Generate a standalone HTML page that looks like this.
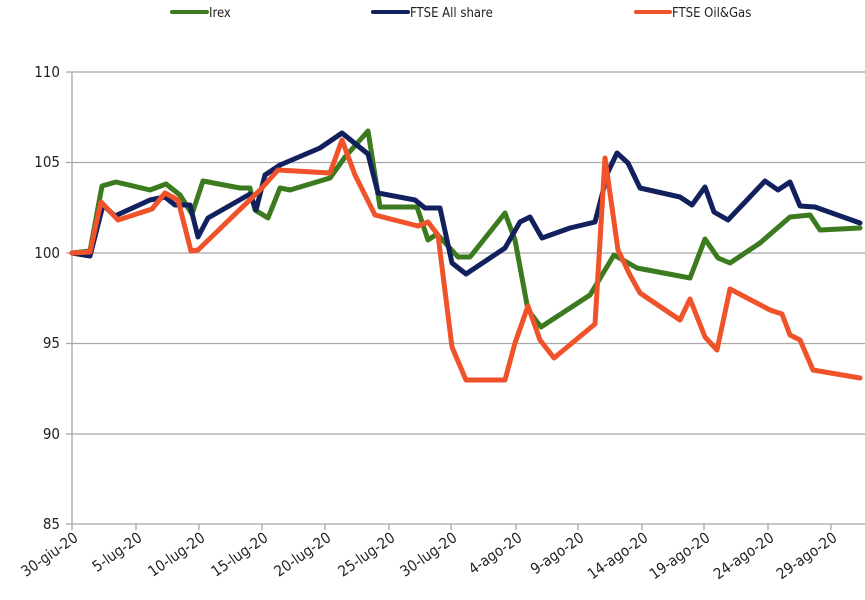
<!DOCTYPE html>
<html><head><meta charset="utf-8"><style>
html,body{margin:0;padding:0;background:#fff;}
svg{display:block;font-family:"DejaVu Sans Condensed","Liberation Sans",sans-serif;}
</style></head><body>
<svg width="865" height="600" viewBox="0 0 865 600">
<g stroke="#a8a8a8" stroke-width="1.3">
<line x1="66" y1="72" x2="865" y2="72"/>
<line x1="66" y1="162.5" x2="865" y2="162.5"/>
<line x1="66" y1="253" x2="865" y2="253"/>
<line x1="66" y1="343.5" x2="865" y2="343.5"/>
<line x1="66" y1="434" x2="865" y2="434"/>
<line x1="66" y1="524" x2="865" y2="524"/>
<line x1="72" y1="72" x2="72" y2="530"/>
<line x1="136" y1="524" x2="136" y2="530"/><line x1="199" y1="524" x2="199" y2="530"/>
<line x1="262" y1="524" x2="262" y2="530"/><line x1="325" y1="524" x2="325" y2="530"/>
<line x1="389" y1="524" x2="389" y2="530"/><line x1="451" y1="524" x2="451" y2="530"/>
<line x1="516" y1="524" x2="516" y2="530"/><line x1="578" y1="524" x2="578" y2="530"/>
<line x1="642" y1="524" x2="642" y2="530"/><line x1="704" y1="524" x2="704" y2="530"/>
<line x1="768" y1="524" x2="768" y2="530"/><line x1="831" y1="524" x2="831" y2="530"/>
</g>
<g font-size="15" fill="#222" text-anchor="end">
<text x="60" y="77">110</text><text x="60" y="167">105</text><text x="60" y="258">100</text>
<text x="60" y="348">95</text><text x="60" y="439">90</text><text x="60" y="529">85</text>
</g>
<g font-size="15" fill="#222" text-anchor="end">
<text transform="translate(79,540) rotate(-35)">30-giu-20</text>
<text transform="translate(143,540) rotate(-35)">5-lug-20</text>
<text transform="translate(206,540) rotate(-35)">10-lug-20</text>
<text transform="translate(269,540) rotate(-35)">15-lug-20</text>
<text transform="translate(332,540) rotate(-35)">20-lug-20</text>
<text transform="translate(396,540) rotate(-35)">25-lug-20</text>
<text transform="translate(458,540) rotate(-35)">30-lug-20</text>
<text transform="translate(523,540) rotate(-35)">4-ago-20</text>
<text transform="translate(585,540) rotate(-35)">9-ago-20</text>
<text transform="translate(649,540) rotate(-35)">14-ago-20</text>
<text transform="translate(711,540) rotate(-35)">19-ago-20</text>
<text transform="translate(775,540) rotate(-35)">24-ago-20</text>
<text transform="translate(838,540) rotate(-35)">29-ago-20</text>
</g>
<g fill="none" stroke-width="5" stroke-linejoin="round" stroke-linecap="round">
<polyline stroke="#3b7a1e" points="72,253 90,251 102,186 116,182 150,190 166,184 180,195 192,214 203,181 240,188 250,188 255,210 268,218 280,188 290,190 330,178 345,157 368,131 380,207 417,207 428,240 437,234 458,257 470,257 505,213 515,240 528,310 541,327 590,295 614,255 637,268 690,278 705,239 718,258 730,263 760,243 775,230 790,217 810,215 820,230 860,228"/>
<polyline stroke="#12205e" points="72,253 90,256 103,205 115,216 150,200 165,197 175,205 190,205 198,237 208,218 250,194 256,210 265,175 280,165 320,148 342,133 368,154 378,193 415,200 425,208 440,208 452,263 466,274 505,248 520,222 530,217 542,238 570,228 595,222 608,172 617,153 628,163 640,188 680,197 692,205 705,187 714,212 728,220 765,181 778,190 790,182 800,206 815,207 860,223"/>
<polyline stroke="#f0522a" points="72,253 90,252 101,202 118,220 152,209 165,193 178,200 191,251 198,250 260,190 278,170 330,173 342,140 355,175 375,215 418,226 428,222 438,235 452,347 466,380 505,380 515,343 528,306 540,340 554,358 595,324 605,158 618,250 630,275 640,293 680,320 690,299 705,337 717,350 730,289 770,310 782,314 790,335 800,340 813,370 860,378"/>
</g>
<g stroke-width="4" stroke-linecap="round">
<line x1="172" y1="12" x2="207" y2="12" stroke="#3b7a1e"/>
<line x1="373" y1="12" x2="408" y2="12" stroke="#12205e"/>
<line x1="636" y1="12" x2="670" y2="12" stroke="#f0522a"/>
</g>
<g font-size="13" fill="#222">
<text x="209" y="17">Irex</text>
<text x="410" y="17">FTSE All share</text>
<text x="672" y="17">FTSE Oil&amp;Gas</text>
</g>
</svg>
</body></html>
